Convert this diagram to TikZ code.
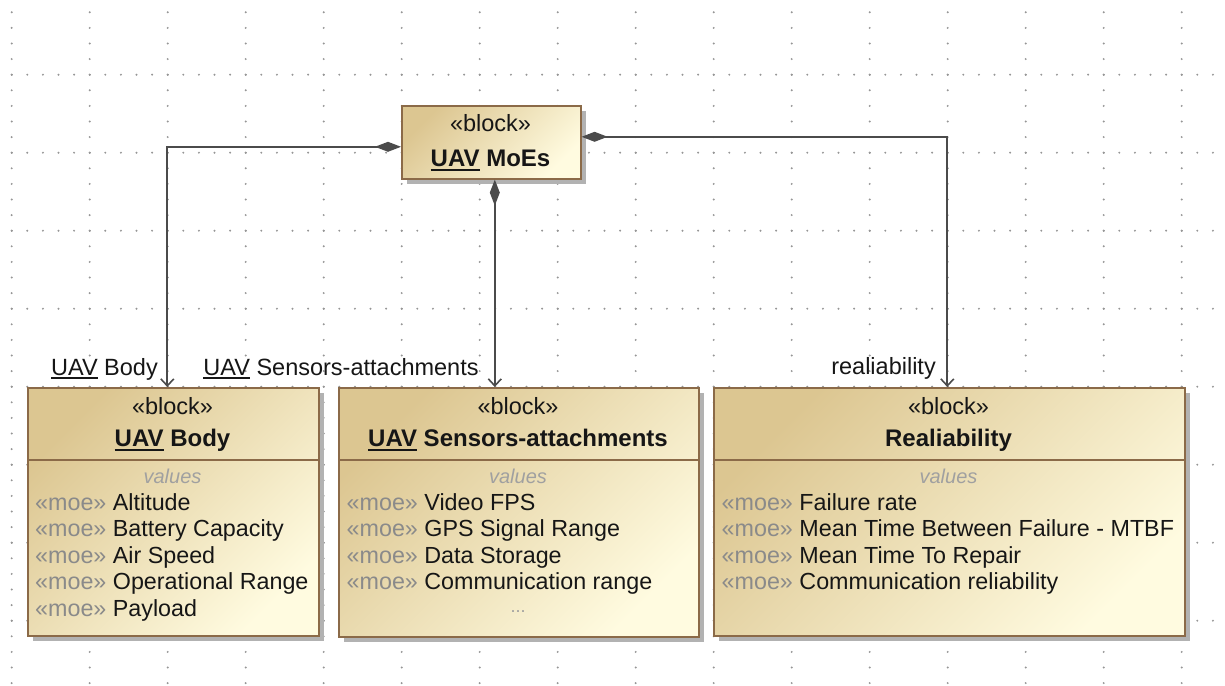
\documentclass[tikz,border=0pt]{standalone}
\usepackage{fontspec}
\setmainfont{Liberation Sans}
\usetikzlibrary{arrows.meta,shadows}

\definecolor{boxdark}{RGB}{220,198,145}
\definecolor{boxlight}{RGB}{255,251,224}
\definecolor{boxline}{RGB}{139,106,72}
\definecolor{wire}{RGB}{75,75,75}
\definecolor{griddot}{RGB}{150,150,150}
\definecolor{stereo}{RGB}{138,138,138}
\definecolor{compart}{RGB}{160,160,160}
\definecolor{ink}{RGB}{22,22,22}

% underline drawn as a solid bar below the word
\newsavebox{\ulnbox}
\newcommand{\uln}[1]{\sbox{\ulnbox}{#1}\rlap{\rule[-4pt]{\wd\ulnbox}{1.7pt}}\usebox{\ulnbox}}

\begin{document}
\begin{tikzpicture}[x=1pt,y=-1pt,
  blockbox/.style={draw=boxline, line width=1.6pt, top color=boxdark,
    bottom color=boxlight, shading angle=45, inner sep=0pt, anchor=north west,
    drop shadow={shadow xshift=5pt,shadow yshift=-5pt,fill=black!30,opacity=1}},
  stereotxt/.style={inner sep=0pt, anchor=base, text=ink, font=\fontsize{23.5}{28}\selectfont},
  titletxt/.style={inner sep=0pt, anchor=base, text=ink, font=\fontsize{24}{28}\selectfont\bfseries},
  comptxt/.style={inner sep=0pt, anchor=base, text=compart, font=\fontsize{20}{24}\selectfont\itshape},
  rowtxt/.style={inner sep=0pt, anchor=base west, text=ink, font=\fontsize{23.3}{28}\selectfont},
  roletxt/.style={inner sep=0pt, text=ink, font=\fontsize{23.5}{28}\selectfont},
  comp/.style={draw=wire, line width=1.8pt,
    arrows={Diamond[length=26pt,width=10pt,fill=wire]-Straight Barb[length=7pt,width=13pt,line width=1.6pt]}}
]
\useasboundingbox (0,0) rectangle (1225,685);

% dotted drawing grid
\foreach \k in {0,...,15}
  \foreach \m in {0,...,43}
    \fill[griddot] ({11.7+78*\k},{12.3+15.6*\m}) circle (1.1pt);
\foreach \j in {0,...,7}
  \foreach \n in {0,...,77}
    \fill[griddot] ({11.7+15.6*\n},{74.7+78*\j}) circle (1.1pt);

% whole-system block
\node[blockbox, minimum width=179pt, minimum height=73pt] (moes) at (401,105) {};
\node[stereotxt] (moes-st) at (490.5,131.7) {«block»};
\node[titletxt] (moes-title) at (490.5,166.7) {\uln{UAV} MoEs};

% part blocks
\node[blockbox, minimum width=291pt, minimum height=248pt] (body) at (27,387) {};
\node[blockbox, minimum width=360pt, minimum height=249pt] (sens) at (338,387) {};
\node[blockbox, minimum width=471pt, minimum height=248pt] (rel) at (713,387) {};

\foreach \b in {body,sens,rel}
  \draw[boxline, line width=1.6pt] (\b.west |- 0,460) -- (\b.east |- 0,460);

% headers and value compartments
\node[stereotxt] (body-st) at (172.5,414) {«block»};
\node[titletxt] (body-title) at (172.5,446.7) {\uln{UAV} Body};
\node[comptxt] (body-values) at (172.5,483.3) {values};

\node[stereotxt] (sens-st) at (518,414) {«block»};
\node[titletxt] (sens-title) at (518,446.7) {\uln{UAV} Sensors-attachments};
\node[comptxt] (sens-values) at (518,483.3) {values};

\node[stereotxt] (rel-st) at (948.5,414) {«block»};
\node[titletxt] (rel-title) at (948.5,446.7) {Realiability};
\node[comptxt] (rel-values) at (948.5,483.3) {values};

\foreach \i/\t in {0/Altitude,1/Battery Capacity,2/Air Speed,3/Operational Range,4/Payload}
  \node[rowtxt] (body-row\i) at (35,{510+26.5*\i}) {{\color{stereo}«moe»} \t};

\foreach \i/\t in {0/Video FPS,1/GPS Signal Range,2/Data Storage,3/Communication range}
  \node[rowtxt] (sens-row\i) at (346.5,{510+26.5*\i}) {{\color{stereo}«moe»} \t};
\node[comptxt, font=\fontsize{18}{20}\selectfont] (sens-more) at (518,612) {...};

\foreach \i/\t in {0/Failure rate,1/Mean Time Between Failure - MTBF,2/Mean Time To Repair,3/Communication reliability}
  \node[rowtxt] (rel-row\i) at (721.5,{510+26.5*\i}) {{\color{stereo}«moe»} \t};

% composition connectors
\draw[comp] ([yshift=-4.5pt]moes.west) -| ([xshift=-6pt]body.north);
\draw[comp] ([xshift=3.5pt]moes.south) -- ([xshift=3.5pt]moes.south |- sens.north);
\draw[comp] ([yshift=5.5pt]moes.east) -| ([xshift=-2pt]rel.north);

% role names
\node[roletxt, anchor=base east] (body-role) at (158,375) {\uln{UAV} Body};
\node[roletxt, anchor=base] (sens-role) at (341,375) {\uln{UAV} Sensors-attachments};
\node[roletxt, anchor=base east] (rel-role) at (936,374) {realiability};
\end{tikzpicture}
\end{document}
